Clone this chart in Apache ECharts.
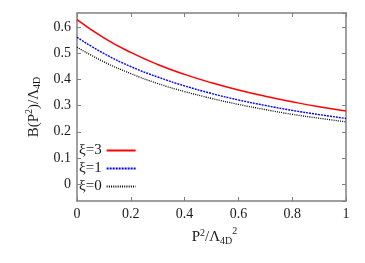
<!DOCTYPE html>
<html><head><meta charset="utf-8">
<script src="https://cdn.jsdelivr.net/npm/echarts@6/dist/echarts.min.js"></script>
<style>html,body{margin:0;padding:0;background:#fff}#c{width:365px;height:263px}</style>
</head><body><div id="c"></div>
<script>
var xValues = [0, 0.1, 0.2, 0.3, 0.4, 0.5, 0.6, 0.7, 0.8, 0.9, 1.0];
var xi3 = [0.630, 0.560, 0.504, 0.458, 0.420, 0.388, 0.360, 0.336, 0.315, 0.296, 0.280];
var xi1 = [0.562, 0.500, 0.450, 0.410, 0.376, 0.347, 0.322, 0.301, 0.282, 0.266, 0.251];
var xi0 = [0.524, 0.468, 0.423, 0.385, 0.354, 0.328, 0.305, 0.285, 0.267, 0.252, 0.238];
var seriesNames = ['ξ=3', 'ξ=1', 'ξ=0'];
var yTickLabels = ['0', '0.1', '0.2', '0.3', '0.4', '0.5', '0.6'];
var xTickLabels = ['0', '0.2', '0.4', '0.6', '0.8', '1'];

function pairs(ys){ return xValues.map(function(x,i){ return [x, ys[i]]; }); }
var FONT = '"Liberation Serif", "DejaVu Serif", serif';
var AX = '#808080';
var TXT = '#1a1a1a';
var chart = echarts.init(document.getElementById('c'), null, {renderer:'canvas'});
var axisCommon = {
  axisLine:{show:true, onZero:false, lineStyle:{color:AX, width:1.5}},
  axisTick:{show:true, inside:true, length:4, lineStyle:{color:AX, width:1}},
  splitLine:{show:false}
};
function yLabelFmt(v){
  var r = Math.round(v*10)/10;
  if (Math.abs(v - r) > 1e-6) return '';
  var s = r.toFixed(1);
  if (s === '0.0' || s === '-0.0') s = '0';
  return yTickLabels.indexOf(s) >= 0 ? s : '';
}
function xLabelFmt(v){
  var s = (Math.round(v*10)/10).toString();
  return xTickLabels.indexOf(s) >= 0 ? s : '';
}
var option = {
  animation:false,
  backgroundColor:'#fff',
  grid:{left:77, right:19, top:13, bottom:62, containLabel:false},
  legend:{
    left:74, top:138, orient:'vertical', align:'right', itemGap:3,
    itemWidth:29, itemHeight:16,
    itemStyle:{opacity:0},
    textStyle:{fontFamily:FONT, fontSize:15, color:TXT},
    data:seriesNames
  },
  xAxis:[
    Object.assign({type:'value', min:0, max:1, interval:0.2, position:'bottom',
      name:'P{sup|2}/Λ{sub|4D}{sup2|2}', nameLocation:'middle', nameGap:18,
      nameTextStyle:{fontFamily:FONT, fontSize:15, color:TXT, padding:[0,0,0,6],
        rich:{sup:{fontFamily:FONT, fontSize:10, color:TXT, padding:[0,0,8,0]},
              sup2:{fontFamily:FONT, fontSize:10, color:TXT, padding:[0,0,12,0]},
              sub:{fontFamily:FONT, fontSize:10, color:TXT, padding:[8,0,0,0]}}},
      axisLabel:{fontFamily:FONT, fontSize:14, color:TXT, margin:6, formatter:xLabelFmt}
    }, axisCommon),
    Object.assign({type:'value', min:0, max:1, interval:0.2, position:'top',
      axisLabel:{show:false}}, axisCommon)
  ],
  yAxis:[
    Object.assign({type:'value', min:-0.065, max:0.655, splitNumber:7, position:'left',
      name:'B(P{sup|2})/Λ{sub|4D}', nameLocation:'middle', nameGap:32,
      nameTextStyle:{fontFamily:FONT, fontSize:15, color:TXT,
        rich:{sup:{fontFamily:FONT, fontSize:10, color:TXT, padding:[0,0,8,0]},
              sub:{fontFamily:FONT, fontSize:10, color:TXT, padding:[8,0,0,0]}}},
      axisLabel:{fontFamily:FONT, fontSize:14, color:TXT, margin:6, showMinLabel:false, showMaxLabel:false, formatter:yLabelFmt}
    }, axisCommon),
    Object.assign({type:'value', min:-0.065, max:0.655, splitNumber:7, position:'right',
      axisLabel:{show:false}}, axisCommon)
  ],
  series:[
    {name:seriesNames[0], type:'line', data:pairs(xi3), smooth:true, symbol:'none',
      lineStyle:{color:'#ff0000', width:1.5, type:'solid'}, itemStyle:{color:'#ff0000'}},
    {name:seriesNames[1], type:'line', data:pairs(xi1), smooth:true, symbol:'none',
      lineStyle:{color:'#0000ff', width:1.4, type:[2,1]}, itemStyle:{color:'#0000ff'}},
    {name:seriesNames[2], type:'line', data:pairs(xi0), smooth:true, symbol:'none',
      lineStyle:{color:'#000000', width:1.3, type:[1,1.2]}, itemStyle:{color:'#000000'}}
  ]
};
chart.setOption(option);
</script>
</body></html>
